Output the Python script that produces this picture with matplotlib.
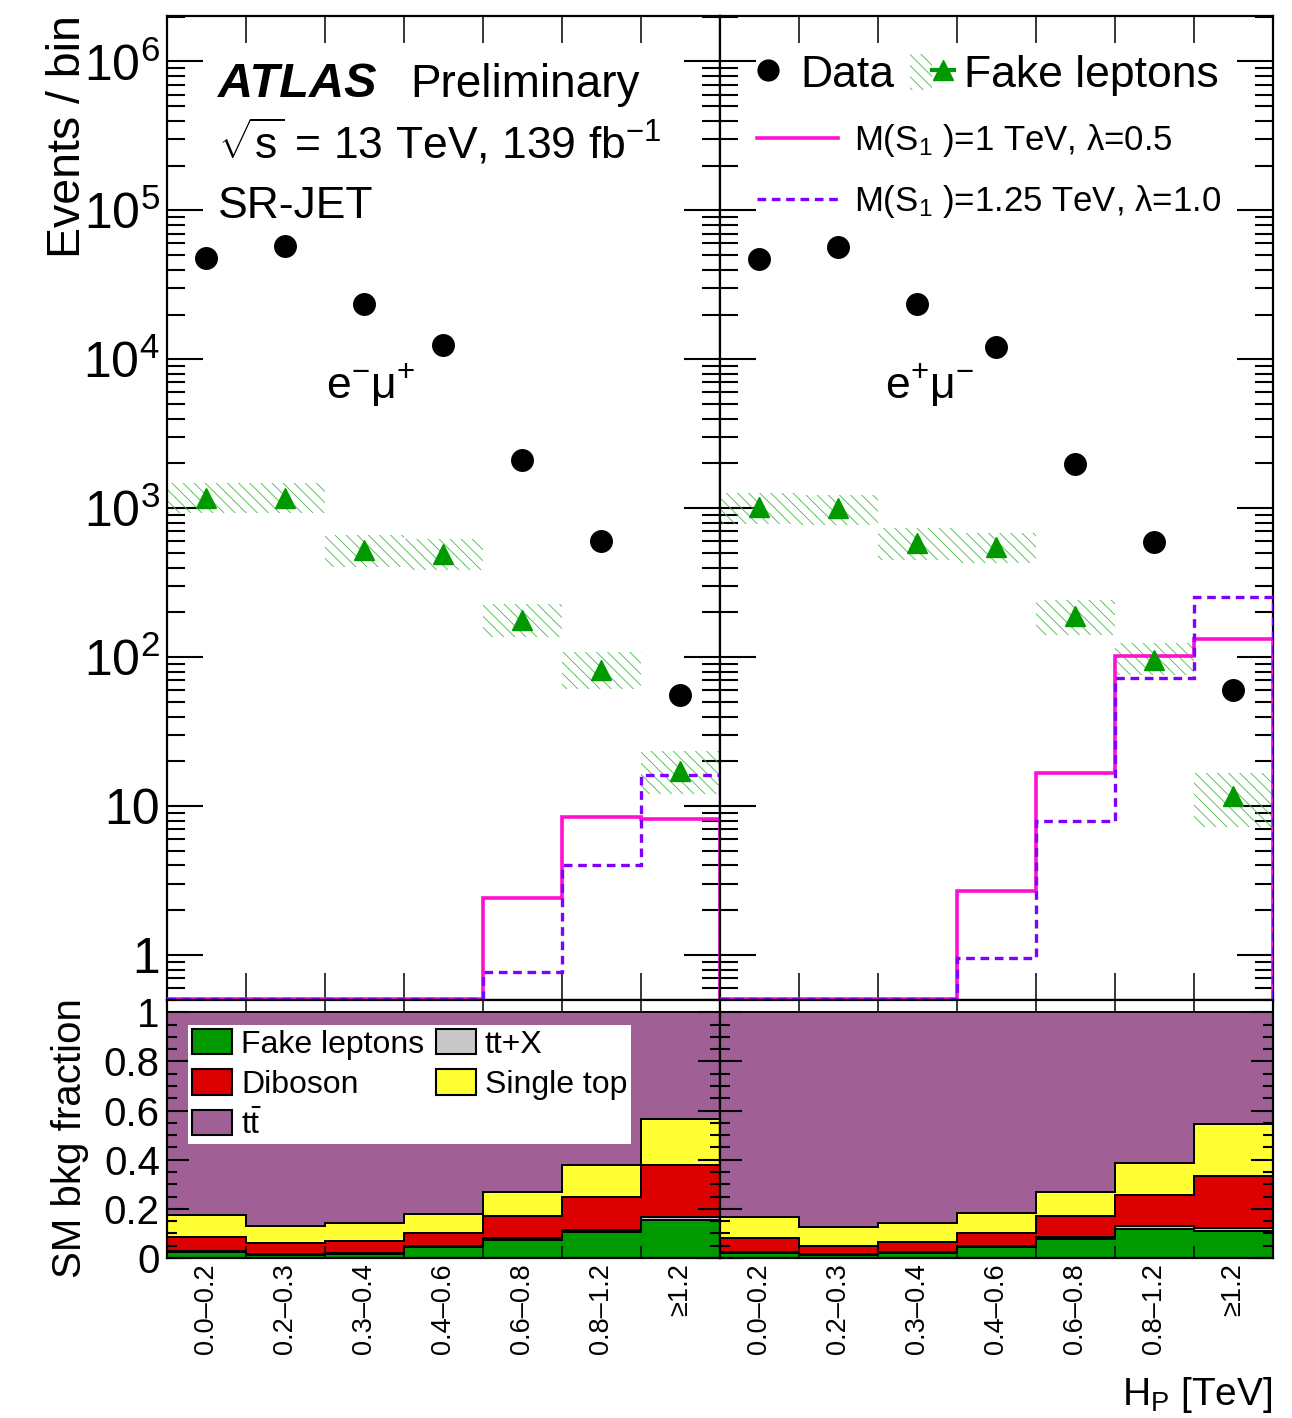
import numpy as np
import matplotlib
matplotlib.use('Agg')
import matplotlib.pyplot as plt
from matplotlib.patches import Patch
from matplotlib.lines import Line2D
from matplotlib.legend_handler import HandlerTuple
from matplotlib.ticker import FixedLocator, FixedFormatter, MultipleLocator, LogLocator, NullFormatter

plt.rcParams['font.family'] = ['Liberation Sans', 'DejaVu Sans']
plt.rcParams['mathtext.fontset'] = 'custom'
plt.rcParams['mathtext.rm'] = 'Liberation Sans'
plt.rcParams['mathtext.it'] = 'Liberation Sans:italic'
plt.rcParams['mathtext.bf'] = 'Liberation Sans:bold'
plt.rcParams['hatch.linewidth'] = 0.6

# ---------------- data ----------------
bin_labels = ['0.0–0.2', '0.2–0.3', '0.3–0.4', '0.4–0.6', '0.6–0.8', '0.8–1.2', '≥1.2']
channels = ['e$^{-}$μ$^{+}$', 'e$^{+}$μ$^{-}$']

data_emu = [48000, 57800, 23600, 12500, 2120, 605, 56]
data_mue = [47200, 56900, 23600, 12100, 1990, 596, 60.5]

fake_emu = [1167, 1167, 524, 494, 178, 82, 17.3]
fake_emu_up = [1472, 1472, 662, 622, 229, 108, 23.4]
fake_emu_dn = [925, 925, 406, 386, 136, 61, 12.0]
fake_mue = [1026, 1000, 589, 553, 188, 96, 11.7]
fake_mue_up = [1260, 1228, 735, 680, 243, 125, 16.7]
fake_mue_dn = [785, 773, 451, 428, 141, 76, 7.3]

sig1_emu = [0, 0, 0, 0, 2.43, 8.5, 8.25]      # M(S1)=1 TeV, lambda=0.5
sig1_mue = [0, 0, 0, 2.71, 16.8, 102, 133]
sig2_emu = [0, 0, 0, 0, 0.77, 4.05, 16.3]     # M(S1)=1.25 TeV, lambda=1.0
sig2_mue = [0, 0, 0, 0.96, 8.0, 72.8, 255]

# SM background fractions (stack order: fake, ttX, diboson, single top, ttbar)
frac_fake_emu = [0.024, 0.014, 0.016, 0.043, 0.074, 0.105, 0.155]
frac_ttx_emu = [0.003, 0.003, 0.003, 0.004, 0.008, 0.010, 0.011]
frac_dib_emu = [0.057, 0.043, 0.050, 0.056, 0.089, 0.135, 0.213]
frac_st_emu = [0.090, 0.070, 0.074, 0.078, 0.098, 0.129, 0.186]
frac_tt_emu = [0.826, 0.870, 0.857, 0.819, 0.731, 0.621, 0.435]

frac_fake_mue = [0.020, 0.014, 0.020, 0.043, 0.078, 0.119, 0.109]
frac_ttx_mue = [0.003, 0.003, 0.003, 0.004, 0.008, 0.010, 0.013]
frac_dib_mue = [0.057, 0.033, 0.043, 0.056, 0.086, 0.128, 0.212]
frac_st_mue = [0.088, 0.076, 0.078, 0.082, 0.097, 0.129, 0.212]
frac_tt_mue = [0.832, 0.874, 0.856, 0.815, 0.731, 0.614, 0.454]

# ---------------- style ----------------
C_FAKE = '#009a00'
C_HATCH = '#44bb44'
C_DIB = '#dd0000'
C_TTX = '#c8c8c8'
C_ST = '#ffff33'
C_TT = '#a06096'
C_SIG1 = '#ff10d0'
C_SIG2 = '#7f00ff'
HATCH = '\\\\\\'
YMIN, YMAX = 0.5, 2.03e6
FLOOR = 0.505

W, H = 1292, 1418
fig = plt.figure(figsize=(W / 100, H / 100), dpi=100)

def fx(px):
    return px / W

def fy(py):
    return 1 - py / H

x0, xm, x1 = 166.7, 719.7, 1272.7
ytop, ymid, ybot = 15.7, 1000.0, 1258.0
axL = fig.add_axes([fx(x0), fy(ymid), fx(xm - x0), fy(ytop) - fy(ymid)])
axR = fig.add_axes([fx(xm), fy(ymid), fx(x1 - xm), fy(ytop) - fy(ymid)])
bxL = fig.add_axes([fx(x0), fy(ybot), fx(xm - x0), fy(ymid) - fy(ybot)])
bxR = fig.add_axes([fx(xm), fy(ybot), fx(x1 - xm), fy(ymid) - fy(ybot)])

nb = len(bin_labels)
edges = np.arange(nb + 1)
centers = edges[:-1] + 0.5

tops = [
    (axL, data_emu, fake_emu, fake_emu_up, fake_emu_dn, sig1_emu, sig2_emu),
    (axR, data_mue, fake_mue, fake_mue_up, fake_mue_dn, sig1_mue, sig2_mue),
]
for ax, dat, fk, fku, fkd, s1, s2 in tops:
    ax.set_yscale('log')
    fku = np.array(fku); fkd = np.array(fkd)
    ax.bar(centers, fku - fkd, bottom=fkd, width=1.0, fill=False, hatch=HATCH,
           edgecolor=C_HATCH, linewidth=0, zorder=2)
    ax.stairs(np.clip(s1, FLOOR, None), edges, baseline=FLOOR, color=C_SIG1, lw=2.6, zorder=3)
    ax.stairs(np.clip(s2, FLOOR, None), edges, baseline=FLOOR, color=C_SIG2, lw=2.4,
              linestyle=(0, (2.6, 1.7)), zorder=3)
    ax.plot(centers, fk, linestyle='none', marker='^', color=C_FAKE, ms=15, zorder=4)
    ax.plot(centers, dat, linestyle='none', marker='o', color='black', ms=15.5, zorder=5)
    ax.set_xlim(0, nb)
    ax.set_ylim(YMIN, YMAX)
    ax.xaxis.set_major_locator(FixedLocator(edges))
    ax.tick_params(axis='x', which='major', direction='in', length=19.5, width=1.1,
                   top=True, bottom=True, labelbottom=False)
    ax.yaxis.set_major_locator(FixedLocator([1, 10, 1e2, 1e3, 1e4, 1e5, 1e6]))
    ax.yaxis.set_major_formatter(FixedFormatter(['1', '10', '$10^{2}$', '$10^{3}$', '$10^{4}$',
                                                 '$10^{5}$', '$10^{6}$']))
    ax.yaxis.set_minor_locator(LogLocator(base=10, subs=np.arange(2, 10), numticks=20))
    ax.yaxis.set_minor_formatter(NullFormatter())
    ax.tick_params(axis='y', which='major', direction='in', length=26, width=1.5,
                   left=True, right=True, labelsize=36, pad=5)
    ax.tick_params(axis='y', which='minor', direction='in', length=13, width=1.5,
                   left=True, right=True)
    for sp in ax.spines.values():
        sp.set_linewidth(1.6)
axR.tick_params(axis='y', which='both', labelleft=False)

# ratio panels
bots = [
    (bxL, frac_fake_emu, frac_ttx_emu, frac_dib_emu, frac_st_emu, frac_tt_emu),
    (bxR, frac_fake_mue, frac_ttx_mue, frac_dib_mue, frac_st_mue, frac_tt_mue),
]
for ax, ff, fx_, fd, fs, ft in bots:
    comps = [(ff, C_FAKE), (fx_, C_TTX), (fd, C_DIB), (fs, C_ST), (ft, C_TT)]
    base = np.zeros(nb)
    for vals, col in comps:
        top = base + np.array(vals)
        ax.stairs(top, edges, baseline=base.copy(), fill=True, facecolor=col,
                  edgecolor='black', lw=1.4, zorder=1)
        base = top
    ax.set_xlim(0, nb)
    ax.set_ylim(0, 1.05)
    ax.xaxis.set_major_locator(FixedLocator(edges))
    ax.xaxis.set_minor_locator(FixedLocator(centers))
    ax.xaxis.set_minor_formatter(FixedFormatter(bin_labels))
    ax.tick_params(axis='x', which='major', direction='in', length=8.5, width=1.1,
                   top=True, bottom=True, labelbottom=False)
    ax.tick_params(axis='x', which='minor', length=0, labelsize=19.5, labelrotation=90, pad=4)
    ax.yaxis.set_major_locator(FixedLocator([0, 0.2, 0.4, 0.6, 0.8, 1.0]))
    ax.yaxis.set_major_formatter(FixedFormatter(['0', '0.2', '0.4', '0.6', '0.8', '1']))
    ax.yaxis.set_minor_locator(MultipleLocator(0.05))
    ax.tick_params(axis='y', which='major', direction='in', length=16, width=1.5,
                   left=True, right=True, labelsize=29, pad=5)
    ax.tick_params(axis='y', which='minor', direction='in', length=7.5, width=1.5,
                   left=True, right=True)
    for sp in ax.spines.values():
        sp.set_linewidth(1.6)
    ax.set_axisbelow(False)
bxR.tick_params(axis='y', which='both', labelleft=False)

# ---------------- text ----------------
axL.text(0.093, 0.917, 'ATLAS', transform=axL.transAxes, fontsize=35, fontweight='bold',
         fontstyle='italic', va='baseline', ha='left')
axL.text(0.441, 0.917, 'Preliminary', transform=axL.transAxes, fontsize=33,
         va='baseline', ha='left')
axL.text(0.093, 0.855, r'$\sqrt{\mathrm{s}}$ = 13 TeV, 139 fb$^{-1}$', transform=axL.transAxes,
         fontsize=32, va='baseline', ha='left')
axL.text(0.093, 0.7945, 'SR-JET', transform=axL.transAxes, fontsize=32,
         va='baseline', ha='left')
axL.text(0.368, 0.6116, channels[0], transform=axL.transAxes, fontsize=32,
         va='baseline', ha='center')
axR.text(0.380, 0.6116, channels[1], transform=axR.transAxes, fontsize=32,
         va='baseline', ha='center')

fig.text(fx(68), fy(15), 'Events / bin', rotation=90, fontsize=33.5, ha='center', va='top')
fig.text(fx(70), fy(998), 'SM bkg fraction', rotation=90, fontsize=29, ha='center', va='top')
fig.text(fx(1273), fy(1405), r'H$_{\mathrm{P}}$ [TeV]', fontsize=28, ha='right', va='baseline')

# ---------------- legends ----------------
h_data = Line2D([], [], linestyle='none', marker='o', color='black', ms=15)
h_fake = (Patch(facecolor='none', edgecolor=C_HATCH, hatch=HATCH, lw=0),
          Line2D([], [], color=C_FAKE, lw=3, marker='^', ms=15))
leg1 = axR.legend([h_data, h_fake], ['Data', 'Fake leptons'], ncol=2, loc='center left',
                  bbox_to_anchor=(0.0476, 0.9398), frameon=False, fontsize=32,
                  handlelength=1.0, handleheight=0.9, handletextpad=0.22, columnspacing=0.35,
                  borderpad=0, borderaxespad=0,
                  handler_map={tuple: HandlerTuple(ndivide=None, pad=0)})
axR.add_artist(leg1)
h_s1 = Line2D([], [], color=C_SIG1, lw=2.6)
h_s2 = Line2D([], [], color=C_SIG2, lw=2.4, linestyle=(0, (2.6, 1.7)))
axR.legend([h_s1, h_s2], [r'M(S$_{1}$ )=1 TeV, λ=0.5', r'M(S$_{1}$ )=1.25 TeV, λ=1.0'],
           loc='center left', bbox_to_anchor=(0.0675, 0.8423), frameon=False, fontsize=25,
           handlelength=2.33, handletextpad=0.45, labelspacing=0.68,
           borderpad=0, borderaxespad=0)

bh = [Patch(facecolor=C_FAKE, edgecolor='black', lw=1.5),
      Patch(facecolor=C_DIB, edgecolor='black', lw=1.5),
      Patch(facecolor=C_TT, edgecolor='black', lw=1.5),
      Patch(facecolor=C_TTX, edgecolor='black', lw=1.5),
      Patch(facecolor=C_ST, edgecolor='black', lw=1.5)]
bl = ['Fake leptons', 'Diboson', r'$\mathrm{t}\bar{\mathrm{t}}$', 'tt+X', 'Single top']
lg = bxL.legend(bh, bl, ncol=2, loc='upper left', bbox_to_anchor=(0.039, 0.903),
                fontsize=23, frameon=True, fancybox=False, framealpha=1,
                handlelength=1.25, handleheight=0.85, handletextpad=0.28,
                columnspacing=0.37, labelspacing=0.3, borderpad=0.12, borderaxespad=0)
lg.get_frame().set_facecolor('white')
lg.get_frame().set_edgecolor('none')

fig.savefig('out.png', dpi=100)
